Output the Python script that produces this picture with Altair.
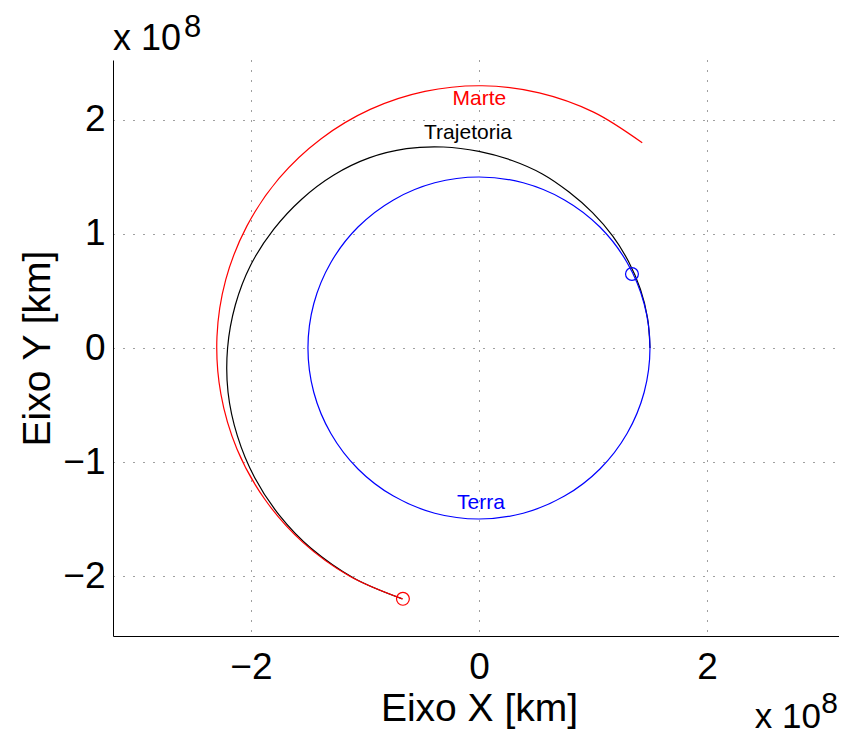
import altair as alt
import pandas as pd

# ---- data (units of 1e8 km) ----
x_ticks = [-2, 0, 2]
y_ticks = [-2, -1, 0, 1, 2]

traj_x = [1.500, 1.479, 1.416, 1.312, 1.172, 0.996, 0.790, 0.556, 0.290, 0.000,
          -0.311, -0.636, -0.963, -1.273, -1.555, -1.801, -2.002, -2.137, -2.205,
          -2.201, -2.119, -1.968, -1.750, -1.473, -1.096, -0.672]
traj_y = [0.000, 0.261, 0.515, 0.758, 0.983, 1.187, 1.368, 1.527, 1.645, 1.725,
          1.763, 1.748, 1.667, 1.517, 1.305, 1.040, 0.728, 0.377, 0.000,
          -0.388, -0.771, -1.136, -1.468, -1.756, -2.019, -2.200]

mars_x = [1.432, 1.005, 0.529, 0.028, -0.474, -0.954, -1.387, -1.754, -2.036,
          -2.221, -2.298, -2.264, -2.122, -1.877, -1.542, -1.133, -0.669]
mars_y = [1.800, 2.069, 2.238, 2.300, 2.251, 2.093, 1.834, 1.488, 1.069,
          0.599, 0.100, -0.403, -0.888, -1.329, -1.707, -2.002, -2.201]

earth_x = [1.500, 1.449, 1.299, 1.061, 0.750, 0.388, 0.000, -0.388, -0.750, -1.061,
           -1.299, -1.449, -1.500, -1.449, -1.299, -1.061, -0.750, -0.388, 0.000,
           0.388, 0.750, 1.061, 1.299, 1.449]
earth_y = [0.000, 0.388, 0.750, 1.061, 1.299, 1.449, 1.500, 1.449, 1.299, 1.061,
           0.750, 0.388, 0.000, -0.388, -0.750, -1.061, -1.299, -1.449, -1.500,
           -1.449, -1.299, -1.061, -0.750, -0.388]

marker_x = [1.342, -0.667]
marker_y = [0.649, -2.200]
marker_color = ["#0000ff", "#ff0000"]

label_text = ["Marte", "Trajetoria", "Terra"]
label_x = [0.004, -0.096, 0.018]
label_y = [2.13, 1.83, -1.41]
label_color = ["#ff0000", "#000000", "#0000ff"]

X_DOMAIN = [-3.21, 3.158]
Y_DOMAIN = [-2.526, 2.526]

FONT = "Liberation Sans"

traj_df = pd.DataFrame({"i": range(len(traj_x)), "x": traj_x, "y": traj_y})
mars_df = pd.DataFrame({"i": range(len(mars_x)), "x": mars_x, "y": mars_y})
earth_df = pd.DataFrame({"i": range(len(earth_x)), "x": earth_x, "y": earth_y})
marker_df = pd.DataFrame({"x": marker_x, "y": marker_y, "c": marker_color})
label_df = pd.DataFrame({"t": label_text, "x": label_x, "y": label_y, "c": label_color})
corner_tl = pd.DataFrame({"x": [X_DOMAIN[0]], "y": [Y_DOMAIN[1]]})
corner_br = pd.DataFrame({"x": [X_DOMAIN[1]], "y": [Y_DOMAIN[0]]})

xs = alt.Scale(domain=X_DOMAIN, nice=False, zero=False)
ys = alt.Scale(domain=Y_DOMAIN, nice=False, zero=False)

ax_x = alt.Axis(values=x_ticks, title="Eixo X [km]", format="d",
                labelPadding=13, titleX=366, titleY=84, titleAlign="center",
                titleBaseline="alphabetic", titleAngle=0)
ax_y = alt.Axis(values=y_ticks, title="Eixo Y [km]", format="d",
                labelPadding=8, titleX=-64, titleY=288, titleAlign="center",
                titleBaseline="alphabetic", titleAngle=270)

X = alt.X("x:Q", scale=xs, axis=ax_x)
Y = alt.Y("y:Q", scale=ys, axis=ax_y)

traj = alt.Chart(traj_df).mark_line(interpolate="cardinal", color="#000000", strokeWidth=1.2).encode(
    x=X, y=Y, order="i:Q")
earth = alt.Chart(earth_df).mark_line(interpolate="cardinal-closed", color="#0000ff", strokeWidth=1.2).encode(
    x=X, y=Y, order="i:Q")
mars = alt.Chart(mars_df).mark_line(interpolate="cardinal", color="#ff0000", strokeWidth=1.2).encode(
    x=X, y=Y, order="i:Q")
markers = alt.Chart(marker_df).mark_point(shape="circle", filled=False, size=165, strokeWidth=1.2, opacity=1).encode(
    x=X, y=Y, color=alt.Color("c:N", scale=None))
labels = alt.Chart(label_df).mark_text(font=FONT, fontSize=21, align="center", baseline="alphabetic").encode(
    x=X, y=Y, text="t:N", color=alt.Color("c:N", scale=None))

tl1 = alt.Chart(corner_tl).mark_text(text="x 10", font=FONT, fontSize=36, align="left",
                                     baseline="alphabetic", dy=-10, color="#000000").encode(x=X, y=Y)
tl2 = alt.Chart(corner_tl).mark_text(text="8", font=FONT, fontSize=31, align="left",
                                     baseline="alphabetic", dx=71, dy=-23, color="#000000").encode(x=X, y=Y)
br1 = alt.Chart(corner_br).mark_text(text="x 10", font=FONT, fontSize=35, align="right",
                                     baseline="alphabetic", dx=-18, dy=92, color="#000000").encode(x=X, y=Y)
br2 = alt.Chart(corner_br).mark_text(text="8", font=FONT, fontSize=30, align="right",
                                     baseline="alphabetic", dx=-1, dy=77, color="#000000").encode(x=X, y=Y)

chart = alt.layer(traj, earth, mars, markers, labels, tl1, tl2, br1, br2).properties(
    width=726, height=576,
    autosize=alt.AutoSizeParams(type="none"),
    padding={"left": 105, "top": 52, "right": 0, "bottom": 98},
    background="white",
).configure_view(stroke=None).configure_axis(
    labelFont=FONT, labelFontSize=37, labelColor="#000000",
    titleFont=FONT, titleFontSize=39, titleFontWeight="normal", titleColor="#000000",
    domainColor="#000000", domainWidth=1, ticks=False,
    grid=True, gridColor="#000000", gridOpacity=0.75, gridDash=[1, 9], gridWidth=1,
)

chart.save("out.html", embed_options={"renderer": "svg", "actions": False})
